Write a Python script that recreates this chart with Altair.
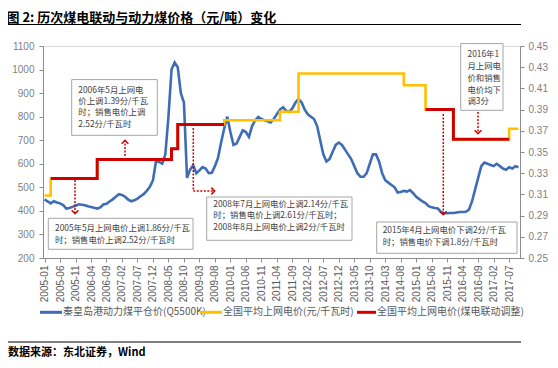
import altair as alt
import pandas as pd

# ---------------- data ----------------
months = [f"{y}-{m:02d}" for y in range(2005, 2018) for m in range(1, 13)][:154]  # 2005-01 .. 2017-10

coal_price = [
    449, 440, 432, 441, 436, 432, 425, 410, 412, 417, 422, 428,
    426, 424, 420, 417, 413, 410, 415, 427, 430, 440, 449, 460,
    471, 468, 460, 448, 441, 445, 452, 462, 471, 485, 502, 530,
    612, 608, 601, 640, 800, 1000, 1030, 1010, 900, 860, 540, 575,
    594, 560, 572, 586, 580, 560, 562, 590, 625, 690, 750, 800,
    735, 680, 686, 714, 742, 735, 714, 760, 785, 799, 790, 785,
    780, 775, 790, 810, 830, 840, 825, 820, 835, 860, 875, 860,
    830, 810, 800, 790, 760, 700, 640, 610, 620, 650, 680, 690,
    680, 660, 640, 620, 590, 560, 545, 545, 560, 600, 640, 640,
    610, 560, 530, 520, 510, 500, 478, 480, 485, 482, 488, 475,
    460, 450, 440, 433, 420, 415, 412, 410, 395, 390, 390, 391,
    391, 393, 395, 395, 396, 405, 440, 490, 540, 590, 605, 600,
    595, 590, 600, 590, 580, 575, 585, 580, 590, 585,
]

# national average on-grid price (yuan/kWh): change points (month, value)
grid_months = ["2005-01", "2005-03", "2006-06", "2008-06", "2008-08", "2009-11",
               "2011-05", "2011-11", "2014-09", "2015-04", "2016-01", "2017-07", "2017-10"]
grid_values = [0.309, 0.325, 0.343, 0.353, 0.376, 0.380,
               0.388, 0.424, 0.413, 0.390, 0.362, 0.372, 0.372]

# adjusted by coal-power linkage: two segments of change points
link_months = ["2005-03", "2006-06", "2008-06", "2008-08", "2009-11",
               "2015-04", "2016-01", "2017-07"]
link_values = [0.325, 0.343, 0.353, 0.376, 0.376,
               0.390, 0.362, 0.362]
link_seg = [1, 1, 1, 1, 1, 2, 2, 2]

left_ticks = list(range(200, 1101, 100))
right_ticks = [0.25, 0.27, 0.29, 0.31, 0.33, 0.35, 0.37, 0.39, 0.41, 0.43, 0.45]

title_text = "图  2:  历次煤电联动与动力煤价格（元/吨）变化"
source_text = "数据来源：东北证券，Wind"
legend_labels = ["秦皇岛港动力煤平仓价(Q5500K)", "全国平均上网电价(元/千瓦时)", "全国平均上网电价(煤电联动调整)"]

notes = [
    "2006年5月上网电\n价上调1.39分/千瓦\n时；销售电价上调\n2.52分/千瓦时",
    "2005年5月上网电价上调1.86分/千瓦\n时；销售电价上调2.52分/千瓦时",
    "2008年7月上网电价上调2.14分/千瓦\n时；销售电价上调2.61分/千瓦时；\n2008年8月上网电价上调2分/千瓦时",
    "2015年4月上网电价下调2分/千瓦\n时；销售电价下调1.8分/千瓦时",
    "2016年1\n月上网电\n价和销售\n电价均下\n调3分",
]

# ---------------- styling ----------------
BLUE = "#3E6DB5"
YELLOW = "#FFC000"
RED = "#D00000"
CJK = "Noto Sans CJK SC"
NUM = "Liberation Sans"
W, H = 477, 212
NOTE_SIZE = 8.4

df_coal = pd.DataFrame({"month": months, "price": coal_price})
df_grid = pd.DataFrame({"month": grid_months, "v": grid_values})
df_link = pd.DataFrame({"month": link_months, "v": link_values, "seg": link_seg})

xscale = alt.Scale(type="point", padding=0.5, domain=months)
xaxis = alt.Axis(values=months[:151:5], labelAngle=270, labelFont=NUM, labelFontSize=10,
                 labelColor="#595959", domainColor="#8C8C8C", tickColor="#8C8C8C",
                 tickSize=4, labelPadding=3, title=None, grid=False)
X = alt.X("month:O", scale=xscale, axis=xaxis, sort=months)

blue = alt.Chart(df_coal).mark_line(color=BLUE, strokeWidth=2.6).encode(
    x=X,
    y=alt.Y("price:Q", scale=alt.Scale(domain=[200, 1100], nice=False, zero=False),
            axis=alt.Axis(values=left_ticks, orient="left", format="d", title=None, grid=False,
                          labelFont=NUM, labelFontSize=10, labelColor="#7F7F7F",
                          domainColor="#8C8C8C", tickColor="#8C8C8C", tickSize=4, labelPadding=5)),
)

rscale = alt.Scale(domain=[0.25, 0.45], nice=False, zero=False)
raxis = alt.Axis(values=right_ticks, orient="right", format=".2f", title=None, grid=False,
                 labelFont=NUM, labelFontSize=10, labelColor="#7F7F7F",
                 domainColor="#8C8C8C", tickColor="#8C8C8C", tickSize=4, labelPadding=4)

yellow = alt.Chart(df_grid).mark_line(color=YELLOW, strokeWidth=2.6, interpolate="step-after").encode(
    x=X,
    y=alt.Y("v:Q", scale=rscale, axis=raxis),
)
red = alt.Chart(df_link).mark_line(color=RED, strokeWidth=3, interpolate="step-after").encode(
    x=X,
    y=alt.Y("v:Q", scale=rscale, axis=raxis),
    detail="seg:N",
)
right_layer = alt.layer(yellow, red)

# ---------------- annotations (pixel positions relative to the plot area) ----------------
def box(x1, y1, x2, y2):
    return alt.Chart().mark_rect(fill="white", stroke="#A6A6A6", strokeWidth=1).encode(
        x=alt.value(x1), x2=alt.value(x2), y=alt.value(y1), y2=alt.value(y2))

def label(txt, x, y, size=NOTE_SIZE, lh=11.5, color="#404040", font=CJK, weight="normal", align="left"):
    # y is the centre of the first line
    return alt.Chart().mark_text(text=txt, lineBreak="\n", lineHeight=lh, align=align,
                                 baseline="middle", fontSize=size, font=font, color=color,
                                 fontWeight=weight).encode(x=alt.value(x), y=alt.value(y))

def vrule(x, y1, y2, dash=True, color=RED, w=1.5):
    kw = dict(strokeDash=[2, 1.5]) if dash else {}
    return alt.Chart().mark_rule(color=color, strokeWidth=w, **kw).encode(
        x=alt.value(x), y=alt.value(y1), y2=alt.value(y2))

def hrule(x1, x2, y, dash=True, color=RED, w=1.5):
    kw = dict(strokeDash=[2, 1.5]) if dash else {}
    return alt.Chart().mark_rule(color=color, strokeWidth=w, **kw).encode(
        x=alt.value(x1), x2=alt.value(x2), y=alt.value(y))

CHEV = {"down": "M-1,-0.5L0,0.5L1,-0.5", "up": "M-1,0.5L0,-0.5L1,0.5", "right": "M-0.5,-1L0.5,0L-0.5,1"}

def chevron(x, y, d):
    return alt.Chart().mark_point(shape=CHEV[d], filled=False, color=RED, strokeWidth=1.5, size=45,
                                  opacity=1).encode(x=alt.value(x), y=alt.value(y))

ann = [
    # arrows
    vrule(82, 110, 95), chevron(82, 96, "up"),
    vrule(32, 134, 167), chevron(32, 166, "down"),
    vrule(150.3, 82, 145), hrule(150.3, 171, 145), chevron(170, 145, "right"),
    vrule(400.3, 68, 168), chevron(400.3, 167, "down"),
    vrule(435, 66, 87), chevron(435, 86, "down"),
    # boxes + text
    box(28.7, 33.6, 114.3, 89.3), label(notes[0], 35.3, 44.3, lh=11.1),
    box(5.3, 172.3, 150, 203.3), label(notes[1], 12, 182.3, lh=12),
    box(163.7, 151, 309, 194.3), label(notes[2], 170.3, 157.8, lh=11.5),
    box(333.7, 176, 474, 207.3), label(notes[3], 339.7, 184.3, lh=11.7),
    box(417.7, -2.4, 460, 64.3), label(notes[4], 424.5, 8.3, lh=11.75),
    # title, rules, source
    label(title_text, -36.5, -27.8, size=13, color="#000000", weight="bold"),
    hrule(-37, 478, -21.5, dash=False, color="#000000", w=1),
    hrule(-37, 478, 296, dash=False, color="#000000", w=1),
    label(source_text, -35, 307.3, size=11, color="#000000", weight="bold"),
    # legend
    hrule(-3, 19, 266.3, dash=False, color=BLUE, w=3),
    label(legend_labels[0], 20, 266.3, size=10, color="#595959"),
    hrule(157, 179, 266.3, dash=False, color=YELLOW, w=3),
    label(legend_labels[1], 180, 266.3, size=10, color="#595959"),
    hrule(314, 333, 266.3, dash=False, color=RED, w=3),
    label(legend_labels[2], 334, 266.3, size=10, color="#595959"),
]

chart = alt.layer(blue, right_layer, *ann).resolve_scale(y="independent").properties(
    width=W, height=H,
    padding={"left": 35, "top": 38, "right": 30, "bottom": 100},
    autosize=alt.AutoSizeParams(type="none"),
).configure_view(stroke=None).configure(background="white")

chart.save("out.html", embed_options={"renderer": "svg", "actions": False})
